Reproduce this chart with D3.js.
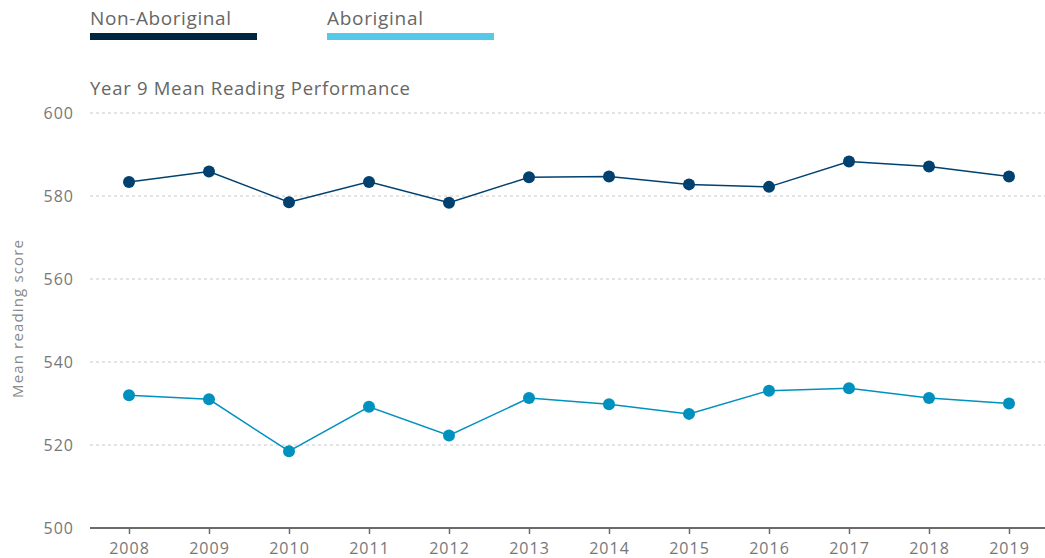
<!DOCTYPE html>
<html><head><meta charset="utf-8">
<script src="https://cdn.jsdelivr.net/npm/d3@7"></script>
<style>
body{margin:0;background:#fff;}
text{font-family:"Open Sans","Noto Sans",sans-serif;}
</style></head>
<body><svg id="c" width="1045" height="558"></svg>
<script>
const years = ["2008","2009","2010","2011","2012","2013","2014","2015","2016","2017","2018","2019"];
const nonAboriginal = [583.4,585.9,578.5,583.4,578.4,584.5,584.7,582.8,582.2,588.3,587.1,584.7];
const aboriginal = [532.0,531.0,518.5,529.2,522.3,531.3,529.8,527.5,533.1,533.7,531.3,530.0];
const yTicks = [500,520,540,560,580,600];
const seriesNames = ["Non-Aboriginal","Aboriginal"];

(function(){
const svg = d3.select("#c");
const pl = 89, pr = 1049, pt = 113, pb = 528;
const x = d3.scalePoint().domain(years).range([pl, pr]).padding(0.5);
const y = d3.scaleLinear().domain([500,600]).range([pb, pt]);
const FONT = "'Open Sans','Noto Sans',sans-serif";

// grid
svg.append("g").selectAll("line").data(yTicks.filter(d=>d>500)).join("line")
  .attr("x1",90).attr("x2",1045).attr("y1",d=>y(d)).attr("y2",d=>y(d))
  .attr("stroke","#c8c8c8").attr("stroke-width",1).attr("stroke-dasharray","3,3");

// y labels
svg.append("g").selectAll("text").data(yTicks).join("text")
  .attr("x",74).attr("y",d=>y(d)+6).attr("text-anchor","end")
  .attr("font-size",16).attr("letter-spacing","1px").attr("fill","#777").text(d=>d);

// x axis
const xa = svg.append("g").attr("transform",`translate(0,${pb})`)
  .call(d3.axisBottom(x).tickSize(6).tickPadding(7));
xa.select(".domain").attr("d",`M90,0H1045`).attr("stroke","#6a6a6a").attr("stroke-width",2);
xa.selectAll(".tick line").attr("stroke","#6a6a6a").attr("stroke-width",1.5);
xa.selectAll(".tick text").attr("font-size",16).attr("fill","#777").attr("letter-spacing","1px")
  .attr("font-family",FONT).attr("dy","0.8em");

// y title
svg.append("text").attr("transform","translate(23,319) rotate(-90)")
  .attr("text-anchor","middle").attr("font-size",15).attr("fill","#888")
  .attr("textLength",158).attr("lengthAdjust","spacing").text("Mean reading score");

// title
svg.append("text").attr("x",90).attr("y",95).attr("font-size",18.5).attr("fill","#666")
  .attr("textLength",320).attr("lengthAdjust","spacing")
  .text("Year 9 Mean Reading Performance");

// legend
const legendX = [90,327];
const legendW = [141,96];
const legendColors = ["#002540","#56c8e8"];
seriesNames.forEach((n,i)=>{
  svg.append("text").attr("x",legendX[i]).attr("y",25).attr("font-size",19).attr("fill","#666")
    .attr("textLength",legendW[i]).attr("lengthAdjust","spacing").text(n);
  svg.append("rect").attr("x",legendX[i]).attr("y",33).attr("width",167).attr("height",7).attr("fill",legendColors[i]);
});

const series = [{v:nonAboriginal,c:"#00416f"},{v:aboriginal,c:"#0091bf"}];
const line = d3.line().x((d,i)=>x(years[i])).y(d=>y(d));
series.forEach(s=>{
  svg.append("path").datum(s.v).attr("d",line).attr("fill","none").attr("stroke",s.c).attr("stroke-width",1.5);
  svg.append("g").selectAll("circle").data(s.v).join("circle")
    .attr("cx",(d,i)=>x(years[i])).attr("cy",d=>y(d)).attr("r",6).attr("fill",s.c);
});
})();
</script></body></html>
